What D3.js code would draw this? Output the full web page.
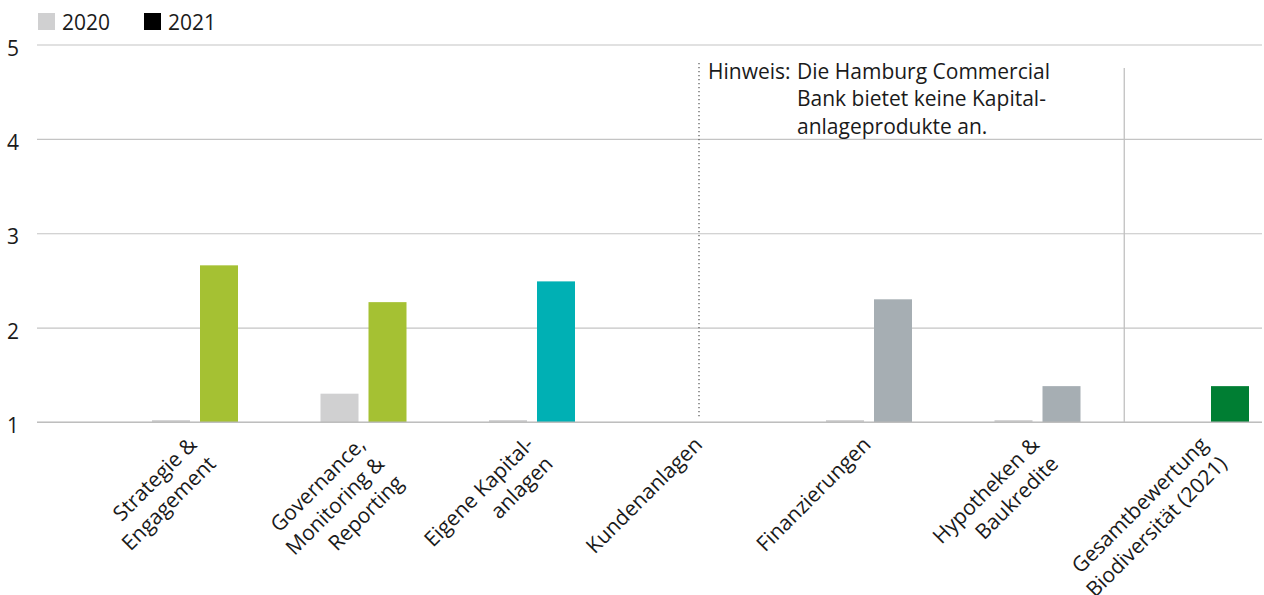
<!DOCTYPE html>
<html>
<head>
<meta charset="utf-8">
<script src="https://cdn.jsdelivr.net/npm/d3@7"></script>
<style>
  html, body { margin: 0; padding: 0; background: #fff; }
  svg { display: block; font-family: "Open Sans", sans-serif; }
</style>
</head>
<body>
<svg id="chart" width="1264" height="595"></svg>
<script>
// ---- data ----
const categories = ["Strategie & Engagement", "Governance, Monitoring & Reporting", "Eigene Kapitalanlagen", "Kundenanlagen", "Finanzierungen", "Hypotheken & Baukredite", "Gesamtbewertung Biodiversität (2021)"];
const labelLines = [["Strategie &", "Engagement"], ["Governance,", "Monitoring &", "Reporting"], ["Eigene Kapital-", "anlagen"], ["Kundenanlagen"], ["Finanzierungen"], ["Hypotheken &", "Baukredite"], ["Gesamtbewertung", "Biodiversität (2021)"]];
const seriesNames = ["2020", "2021"];
const values2020 = [1.02, 1.3, 1.02, null, 1.02, 1.02, null];
const values2021 = [2.66, 2.27, 2.49, null, 2.3, 1.38, 1.38];
const colors2021 = ["#a5c133", "#a5c133", "#00b0b4", "#a6aeb3", "#a6aeb3", "#a6aeb3", "#007e33"];
const color2020 = "#d0d0d1";
const legendColors = ["#d0d0d1", "#000000"];
const yTicks = [1, 2, 3, 4, 5];
const noteLines = ["Die Hamburg Commercial", "Bank bietet keine Kapital-", "anlageprodukte an."];
const noteLabel = "Hinweis:";

// ---- layout ----
const FS = 21;
const svg = d3.select("#chart");
const gridLeft = 37, gridRight = 1262;
const y = d3.scaleLinear().domain([1, 5]).range([422, 44.5]);
const x = d3.scaleBand().domain(categories).range([110.75, 1290.25]).paddingInner(0).paddingOuter(0);
const bw = x.bandwidth();
const x1 = d3.scaleBand().domain(seriesNames).range([bw / 2 - 43, bw / 2 + 43]).paddingInner(10 / 48).paddingOuter(0);

// y axis / gridlines
const yAxis = svg.append("g")
  .attr("transform", `translate(${gridRight},0)`)
  .call(d3.axisLeft(y).tickValues(yTicks).tickSize(gridRight - gridLeft).tickFormat(d3.format("d")));
yAxis.select(".domain").remove();
yAxis.selectAll(".tick line").attr("stroke", "#c4c4c4").attr("stroke-width", 1.2);
yAxis.selectAll(".tick text")
  .attr("x", -(gridRight - 7))
  .attr("text-anchor", "start")
  .attr("dy", "0.5em")
  .attr("font-size", FS)
  .attr("font-family", "Open Sans")
  .attr("fill", "#1a1a1a");

// bars
const data = categories.map((c, i) => ({ c, i, v: [values2020[i], values2021[i]] }));
const groups = svg.append("g").selectAll("g").data(data).join("g")
  .attr("transform", d => `translate(${x(d.c)},0)`);
groups.selectAll("rect")
  .data(d => d.v.map((v, k) => ({ v, k, i: d.i })).filter(e => e.v != null))
  .join("rect")
  .attr("x", e => x1(seriesNames[e.k]))
  .attr("width", x1.bandwidth())
  .attr("y", e => y(e.v))
  .attr("height", e => y(1) - y(e.v))
  .attr("fill", e => e.k === 0 ? color2020 : colors2021[e.i]);

// redraw baseline over bars
svg.append("line")
  .attr("x1", gridLeft).attr("x2", gridRight)
  .attr("y1", y(1)).attr("y2", y(1))
  .attr("stroke", "#b8b8b8").attr("stroke-width", 1.2);

// x axis labels
const xAxis = svg.append("g")
  .attr("transform", `translate(0,${y(1)})`)
  .call(d3.axisBottom(x).tickSize(0).tickFormat(""));
xAxis.select(".domain").remove();
xAxis.selectAll(".tick").each(function (d, i) {
  const t = d3.select(this);
  t.select("text").remove();
  const txt = t.append("text")
    .attr("transform", "translate(3,24) rotate(-45)")
    .attr("text-anchor", "end")
    .attr("font-size", FS)
    .attr("font-family", "Open Sans")
    .attr("fill", "#1a1a1a");
  labelLines[i].forEach((line, j) => {
    txt.append("tspan").attr("x", 0).attr("dy", j === 0 ? 0 : 27).text(line);
  });
});

// dotted line through Kundenanlagen
const cK = x(categories[3]) + bw / 2 - 1.5;
svg.append("line")
  .attr("x1", cK).attr("x2", cK)
  .attr("y1", 63).attr("y2", 418)
  .attr("stroke", "#555").attr("stroke-width", 1.2)
  .attr("stroke-dasharray", "1.2,2.8");

// solid separator before overall rating
const sepX = x(categories[6]) + 2.5;
svg.append("line")
  .attr("x1", sepX).attr("x2", sepX)
  .attr("y1", 68).attr("y2", y(1))
  .attr("stroke", "#c0c0c0").attr("stroke-width", 1.3);

// note
const note = svg.append("g").attr("font-size", FS).attr("font-family", "Open Sans").attr("fill", "#1a1a1a");
note.append("text").attr("x", cK + 9).attr("y", 78.5).text(noteLabel);
noteLines.forEach((l, j) => {
  note.append("text").attr("x", cK + 98).attr("y", 78.5 + j * 27.5).text(l);
});

// legend
const legend = svg.append("g");
seriesNames.forEach((s, k) => {
  const lx = k === 0 ? 38 : 144;
  legend.append("rect").attr("x", lx).attr("y", 13).attr("width", 17).attr("height", 17).attr("fill", legendColors[k]);
  legend.append("text").attr("x", lx + 24).attr("y", 30).attr("font-size", FS)
    .attr("font-family", "Open Sans").attr("fill", "#1a1a1a").text(s);
});
</script>
</body>
</html>
